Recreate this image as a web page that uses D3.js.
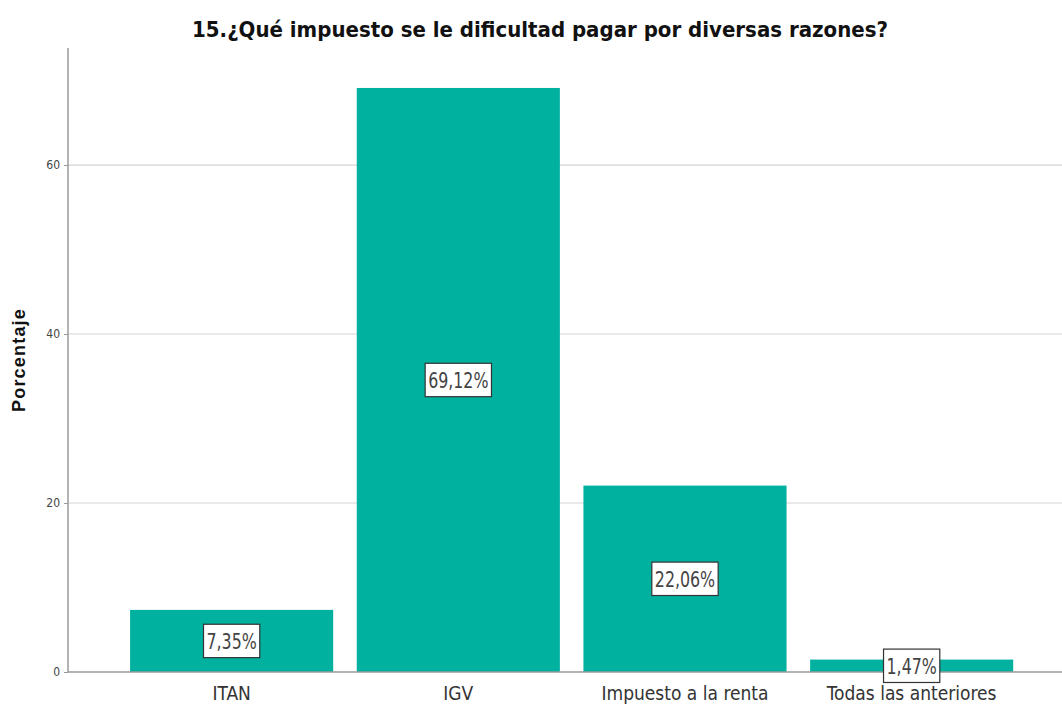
<!DOCTYPE html>
<html>
<head>
<meta charset="utf-8">
<script src="https://cdn.jsdelivr.net/npm/d3@7"></script>
<style>
  body { margin: 0; background: #fff; }
  text { font-family: "Liberation Sans Narrow", "Arial Narrow", "DejaVu Sans Condensed", sans-serif; }
</style>
</head>
<body>
<svg id="chart"></svg>
<script>
var categories = ["ITAN", "IGV", "Impuesto a la renta", "Todas las anteriores"];
var percents = [7.35, 69.12, 22.06, 1.47];
var yTicks = [0, 20, 40, 60];

var width = 1062;
var height = 706;

var svg = d3.select("#chart")
            .attr("width", width)
            .attr("height", height);

var plotLeft = 68, plotBottom = 672, plotTop = 48;

var x = d3.scaleBand()
          .domain(categories)
          .range([118.3, 1025])
          .paddingInner(0.104)
          .paddingOuter(0.052);

var y = d3.scaleLinear()
          .domain([0, 73.85])
          .range([plotBottom, plotTop]);

/*gridlines*/
svg.selectAll("line.grid")
   .data(yTicks.filter(function(d){ return d > 0; }))
   .enter()
   .append("line")
   .attr("class", "grid")
   .attr("x1", plotLeft)
   .attr("x2", width)
   .attr("y1", function(d){ return y(d); })
   .attr("y2", function(d){ return y(d); })
   .attr("stroke", "#d4d4d4")
   .attr("stroke-width", 1.2);

/*bars*/
svg.selectAll("rect.bar")
   .data(percents)
   .enter()
   .append("rect")
   .attr("class", "bar")
   .attr("x", function(d, i){ return x(categories[i]); })
   .attr("y", function(d){ return y(d); })
   .attr("width", x.bandwidth())
   .attr("height", function(d){ return plotBottom - y(d); })
   .attr("fill", "#00b19f");

/*y axis*/
var yAxis = svg.append("g")
   .attr("transform", "translate(" + plotLeft + ",0)")
   .call(d3.axisLeft(y).tickValues(yTicks).tickSize(4).tickPadding(4));
yAxis.select(".domain").remove();
yAxis.selectAll(".tick line").attr("stroke", "#999");
yAxis.selectAll(".tick text")
     .attr("fill", "#444")
     .style("font-size", "12px");

svg.append("line")
   .attr("x1", plotLeft).attr("x2", plotLeft)
   .attr("y1", plotTop).attr("y2", plotBottom)
   .attr("stroke", "#9a9a9a")
   .attr("stroke-width", 1.5);

svg.append("line")
   .attr("x1", plotLeft).attr("x2", width)
   .attr("y1", plotBottom).attr("y2", plotBottom)
   .attr("stroke", "#9a9a9a")
   .attr("stroke-width", 1.5);

/*x labels*/
svg.selectAll("text.xlab")
   .data(categories)
   .enter()
   .append("text")
   .attr("class", "xlab")
   .text(function(d){ return d; })
   .attr("x", function(d){ return x(d) + x.bandwidth() / 2; })
   .attr("y", 700)
   .attr("text-anchor", "middle")
   .attr("fill", "#333")
   .style("font-size", "19px");

/*value labels*/
var labels = svg.selectAll("g.vlab")
   .data(percents)
   .enter()
   .append("g")
   .attr("class", "vlab")
   .attr("transform", function(d, i){
     var cx = x(categories[i]) + x.bandwidth() / 2;
     var cy = (y(d) + plotBottom) / 2;
     return "translate(" + cx + "," + cy + ")";
   });

labels.append("text")
   .text(function(d){ return d.toFixed(2).replace(".", ",") + "%"; })
   .attr("text-anchor", "middle")
   .attr("dy", "0.36em")
   .attr("fill", "#444")
   .attr("transform", "scale(0.88,1.1)")
   .style("font-size", "20px");

labels.each(function(){
  var g = d3.select(this);
  var bb = g.select("text").node().getBBox();
  var w = bb.width * 0.88, h = bb.height * 1.1;
  g.insert("rect", "text")
   .attr("x", -w / 2 - 3)
   .attr("y", -h / 2 - 4)
   .attr("width", w + 6)
   .attr("height", h + 8)
   .attr("fill", "#fff")
   .attr("stroke", "#333")
   .attr("stroke-width", 1.2);
});

/*title*/
svg.append("text")
   .text("15.¿Qué impuesto se le dificultad pagar por diversas razones?")
   .attr("x", 540)
   .attr("y", 37)
   .attr("text-anchor", "middle")
   .attr("fill", "#111")
   .style("font-size", "22px")
   .style("font-weight", "bold");

/*y title*/
svg.append("text")
   .text("Porcentaje")
   .attr("transform", "translate(25,360) rotate(-90)")
   .attr("text-anchor", "middle")
   .attr("fill", "#111")
   .style("font-family", "'Liberation Sans', Arial, sans-serif")
   .style("font-size", "18px")
   .style("letter-spacing", "1.2px")
   .style("font-weight", "bold");
</script>
</body>
</html>
